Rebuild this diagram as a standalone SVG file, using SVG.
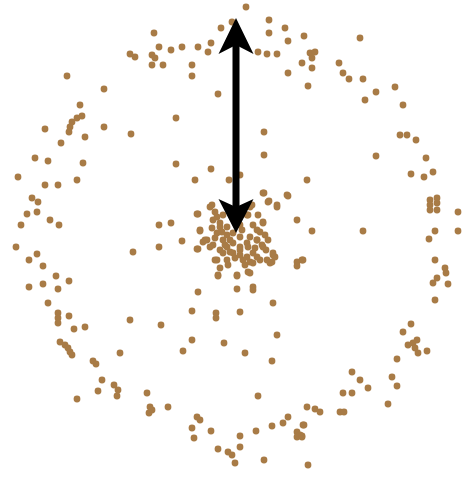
<svg xmlns="http://www.w3.org/2000/svg" width="468" height="477" viewBox="0 0 468 477">
<style>
.d{fill:#a87b46}
.d circle{r:3.4px}
</style>
<rect width="468" height="477" fill="#fff"/>
<g id="dots" class="d">
<circle cx="154" cy="33" r="3.4"/><circle cx="159" cy="47" r="3.4"/><circle cx="130" cy="54" r="3.4"/><circle cx="135" cy="57" r="3.4"/>
<circle cx="152" cy="55" r="3.4"/><circle cx="155" cy="58" r="3.4"/><circle cx="152" cy="65" r="3.4"/><circle cx="67" cy="76" r="3.4"/>
<circle cx="104" cy="89" r="3.4"/><circle cx="80" cy="105" r="3.4"/><circle cx="82" cy="116" r="3.4"/><circle cx="77" cy="118" r="3.4"/>
<circle cx="72" cy="122" r="3.4"/><circle cx="70" cy="127" r="3.4"/><circle cx="69" cy="132" r="3.4"/><circle cx="45" cy="129" r="3.4"/>
<circle cx="104" cy="127" r="3.4"/><circle cx="85" cy="137" r="3.4"/><circle cx="61" cy="143" r="3.4"/><circle cx="131" cy="134" r="3.4"/>
<circle cx="35" cy="158" r="3.4"/><circle cx="48" cy="161" r="3.4"/><circle cx="83" cy="163" r="3.4"/>
<circle cx="246" cy="7" r="3.4"/><circle cx="232" cy="22" r="3.4"/><circle cx="221" cy="28" r="3.4"/><circle cx="269" cy="20" r="3.4"/>
<circle cx="269" cy="33" r="3.4"/><circle cx="285" cy="28" r="3.4"/><circle cx="304" cy="36" r="3.4"/><circle cx="288" cy="41" r="3.4"/>
<circle cx="171" cy="50" r="3.4"/><circle cx="182" cy="47" r="3.4"/><circle cx="198" cy="47" r="3.4"/><circle cx="211" cy="43" r="3.4"/>
<circle cx="208" cy="52" r="3.4"/><circle cx="163" cy="65" r="3.4"/><circle cx="192" cy="65" r="3.4"/><circle cx="192" cy="76" r="3.4"/>
<circle cx="258" cy="52" r="3.4"/><circle cx="267" cy="54" r="3.4"/><circle cx="277" cy="54" r="3.4"/><circle cx="302" cy="63" r="3.4"/>
<circle cx="288" cy="73" r="3.4"/><circle cx="308" cy="86" r="3.4"/><circle cx="218" cy="94" r="3.4"/><circle cx="176" cy="118" r="3.4"/>
<circle cx="264" cy="132" r="3.4"/><circle cx="264" cy="155" r="3.4"/>
<circle cx="360" cy="38" r="3.4"/><circle cx="310" cy="53" r="3.4"/><circle cx="315" cy="52" r="3.4"/><circle cx="312" cy="58" r="3.4"/>
<circle cx="312" cy="68" r="3.4"/><circle cx="339" cy="63" r="3.4"/><circle cx="343" cy="73" r="3.4"/><circle cx="349" cy="79" r="3.4"/>
<circle cx="363" cy="79" r="3.4"/><circle cx="376" cy="92" r="3.4"/><circle cx="365" cy="100" r="3.4"/><circle cx="395" cy="87" r="3.4"/>
<circle cx="403" cy="105" r="3.4"/><circle cx="400" cy="135" r="3.4"/><circle cx="407" cy="135" r="3.4"/><circle cx="416" cy="140" r="3.4"/>
<circle cx="376" cy="156" r="3.4"/><circle cx="426" cy="158" r="3.4"/>
<circle cx="18" cy="177" r="3.4"/><circle cx="45" cy="185" r="3.4"/><circle cx="58" cy="185" r="3.4"/><circle cx="77" cy="180" r="3.4"/>
<circle cx="32" cy="198" r="3.4"/><circle cx="38" cy="202" r="3.4"/><circle cx="27" cy="214" r="3.4"/><circle cx="37" cy="212" r="3.4"/>
<circle cx="50" cy="220" r="3.4"/><circle cx="59" cy="225" r="3.4"/><circle cx="21" cy="225" r="3.4"/><circle cx="159" cy="225" r="3.4"/>
<circle cx="159" cy="247" r="3.4"/><circle cx="16" cy="247" r="3.4"/><circle cx="133" cy="252" r="3.4"/><circle cx="37" cy="254" r="3.4"/>
<circle cx="29" cy="260" r="3.4"/><circle cx="43" cy="266" r="3.4"/><circle cx="56" cy="276" r="3.4"/><circle cx="69" cy="281" r="3.4"/>
<circle cx="29" cy="287" r="3.4"/><circle cx="43" cy="284" r="3.4"/><circle cx="58" cy="289" r="3.4"/><circle cx="48" cy="303" r="3.4"/>
<circle cx="130" cy="320" r="3.4"/>
<circle cx="176" cy="164" r="3.4"/><circle cx="211" cy="169" r="3.4"/><circle cx="195" cy="180" r="3.4"/><circle cx="229" cy="180" r="3.4"/>
<circle cx="240" cy="175" r="3.4"/><circle cx="307" cy="180" r="3.4"/><circle cx="264" cy="193" r="3.4"/><circle cx="269" cy="201" r="3.4"/>
<circle cx="277" cy="207" r="3.4"/><circle cx="288" cy="196" r="3.4"/><circle cx="297" cy="220" r="3.4"/><circle cx="171" cy="223" r="3.4"/>
<circle cx="198" cy="214" r="3.4"/><circle cx="200" cy="230" r="3.4"/><circle cx="182" cy="241" r="3.4"/><circle cx="198" cy="249" r="3.4"/>
<circle cx="210" cy="207" r="3.4"/><circle cx="215" cy="212" r="3.4"/><circle cx="213" cy="220" r="3.4"/><circle cx="223" cy="215" r="3.4"/>
<circle cx="230" cy="210" r="3.4"/><circle cx="250" cy="207" r="3.4"/><circle cx="247" cy="215" r="3.4"/><circle cx="220" cy="227" r="3.4"/>
<circle cx="227" cy="227" r="3.4"/><circle cx="240" cy="225" r="3.4"/><circle cx="253" cy="225" r="3.4"/><circle cx="263" cy="222" r="3.4"/>
<circle cx="257" cy="230" r="3.4"/><circle cx="265" cy="235" r="3.4"/><circle cx="250" cy="237" r="3.4"/><circle cx="240" cy="237" r="3.4"/>
<circle cx="233" cy="233" r="3.4"/><circle cx="227" cy="235" r="3.4"/><circle cx="217" cy="233" r="3.4"/><circle cx="207" cy="240" r="3.4"/>
<circle cx="203" cy="242" r="3.4"/><circle cx="213" cy="245" r="3.4"/><circle cx="220" cy="250" r="3.4"/><circle cx="227" cy="247" r="3.4"/>
<circle cx="233" cy="243" r="3.4"/><circle cx="240" cy="247" r="3.4"/><circle cx="247" cy="243" r="3.4"/><circle cx="257" cy="240" r="3.4"/>
<circle cx="263" cy="247" r="3.4"/><circle cx="253" cy="253" r="3.4"/><circle cx="247" cy="257" r="3.4"/><circle cx="233" cy="253" r="3.4"/>
<circle cx="223" cy="253" r="3.4"/><circle cx="217" cy="260" r="3.4"/><circle cx="250" cy="262" r="3.4"/><circle cx="260" cy="260" r="3.4"/>
<circle cx="273" cy="255" r="3.4"/><circle cx="270" cy="263" r="3.4"/><circle cx="275" cy="257" r="3.4"/><circle cx="297" cy="262" r="3.4"/>
<circle cx="302" cy="260" r="3.4"/><circle cx="297" cy="266" r="3.4"/>
<circle cx="197" cy="214" r="3.4"/><circle cx="200" cy="231" r="3.4"/><circle cx="197" cy="249" r="3.4"/><circle cx="205" cy="240" r="3.4"/>
<circle cx="212" cy="205" r="3.4"/><circle cx="215" cy="260" r="3.4"/><circle cx="218" cy="275" r="3.4"/><circle cx="237" cy="275" r="3.4"/>
<circle cx="248" cy="272" r="3.4"/><circle cx="253" cy="263" r="3.4"/><circle cx="257" cy="257" r="3.4"/><circle cx="267" cy="260" r="3.4"/>
<circle cx="272" cy="262" r="3.4"/><circle cx="273" cy="253" r="3.4"/><circle cx="263" cy="223" r="3.4"/><circle cx="260" cy="232" r="3.4"/>
<circle cx="268" cy="202" r="3.4"/><circle cx="277" cy="205" r="3.4"/><circle cx="263" cy="193" r="3.4"/><circle cx="287" cy="195" r="3.4"/>
<circle cx="252" cy="205" r="3.4"/><circle cx="248" cy="215" r="3.4"/><circle cx="217" cy="217" r="3.4"/><circle cx="220" cy="223" r="3.4"/>
<circle cx="210" cy="247" r="3.4"/><circle cx="223" cy="240" r="3.4"/><circle cx="230" cy="252" r="3.4"/><circle cx="240" cy="250" r="3.4"/>
<circle cx="248" cy="247" r="3.4"/><circle cx="257" cy="240" r="3.4"/><circle cx="262" cy="245" r="3.4"/><circle cx="227" cy="260" r="3.4"/>
<circle cx="243" cy="260" r="3.4"/><circle cx="215" cy="238" r="3.4"/><circle cx="225" cy="245" r="3.4"/><circle cx="235" cy="258" r="3.4"/>
<circle cx="245" cy="265" r="3.4"/><circle cx="255" cy="248" r="3.4"/><circle cx="242" cy="230" r="3.4"/><circle cx="230" cy="240" r="3.4"/>
<circle cx="222" cy="232" r="3.4"/><circle cx="212" cy="228" r="3.4"/><circle cx="258" cy="215" r="3.4"/><circle cx="268" cy="240" r="3.4"/>
<circle cx="266" cy="250" r="3.4"/><circle cx="240" cy="255" r="3.4"/><circle cx="228" cy="265" r="3.4"/><circle cx="220" cy="268" r="3.4"/>
<circle cx="218" cy="276" r="3.4"/><circle cx="237" cy="276" r="3.4"/><circle cx="250" cy="273" r="3.4"/><circle cx="198" cy="292" r="3.4"/>
<circle cx="237" cy="289" r="3.4"/><circle cx="253" cy="287" r="3.4"/><circle cx="253" cy="290" r="3.4"/><circle cx="273" cy="303" r="3.4"/>
<circle cx="192" cy="311" r="3.4"/><circle cx="216" cy="313" r="3.4"/><circle cx="216" cy="318" r="3.4"/><circle cx="240" cy="312" r="3.4"/>
<circle cx="411" cy="174" r="3.4"/><circle cx="424" cy="177" r="3.4"/><circle cx="433" cy="172" r="3.4"/>
<circle cx="430" cy="200" r="3.4"/><circle cx="437" cy="198" r="3.4"/><circle cx="430" cy="205" r="3.4"/><circle cx="437" cy="203" r="3.4"/>
<circle cx="430" cy="210" r="3.4"/><circle cx="437" cy="210" r="3.4"/><circle cx="458" cy="212" r="3.4"/><circle cx="312" cy="231" r="3.4"/>
<circle cx="363" cy="231" r="3.4"/><circle cx="435" cy="231" r="3.4"/><circle cx="458" cy="231" r="3.4"/><circle cx="429" cy="239" r="3.4"/>
<circle cx="303" cy="260" r="3.4"/><circle cx="435" cy="260" r="3.4"/><circle cx="445" cy="268" r="3.4"/><circle cx="446" cy="273" r="3.4"/>
<circle cx="437" cy="278" r="3.4"/><circle cx="433" cy="283" r="3.4"/><circle cx="448" cy="284" r="3.4"/><circle cx="435" cy="300" r="3.4"/>
<circle cx="58" cy="313" r="3.4"/><circle cx="58" cy="318" r="3.4"/><circle cx="58" cy="323" r="3.4"/><circle cx="69" cy="316" r="3.4"/>
<circle cx="74" cy="329" r="3.4"/><circle cx="85" cy="327" r="3.4"/><circle cx="161" cy="325" r="3.4"/>
<circle cx="60" cy="342" r="3.4"/><circle cx="65" cy="345" r="3.4"/><circle cx="68" cy="348" r="3.4"/><circle cx="70" cy="352" r="3.4"/>
<circle cx="72" cy="355" r="3.4"/><circle cx="120" cy="353" r="3.4"/><circle cx="93" cy="361" r="3.4"/><circle cx="96" cy="364" r="3.4"/>
<circle cx="102" cy="380" r="3.4"/><circle cx="98" cy="391" r="3.4"/><circle cx="114" cy="385" r="3.4"/><circle cx="118" cy="390" r="3.4"/>
<circle cx="117" cy="396" r="3.4"/><circle cx="77" cy="399" r="3.4"/><circle cx="147" cy="393" r="3.4"/>
<circle cx="150" cy="407" r="3.4"/><circle cx="149" cy="413" r="3.4"/><circle cx="152" cy="410" r="3.4"/>
<circle cx="192" cy="340" r="3.4"/><circle cx="224" cy="343" r="3.4"/><circle cx="183" cy="351" r="3.4"/><circle cx="245" cy="353" r="3.4"/>
<circle cx="277" cy="335" r="3.4"/><circle cx="272" cy="361" r="3.4"/><circle cx="258" cy="396" r="3.4"/><circle cx="168" cy="407" r="3.4"/>
<circle cx="307" cy="407" r="3.4"/><circle cx="197" cy="417" r="3.4"/><circle cx="200" cy="420" r="3.4"/><circle cx="192" cy="428" r="3.4"/>
<circle cx="211" cy="431" r="3.4"/><circle cx="194" cy="438" r="3.4"/><circle cx="256" cy="431" r="3.4"/><circle cx="272" cy="426" r="3.4"/>
<circle cx="283" cy="423" r="3.4"/><circle cx="288" cy="417" r="3.4"/><circle cx="303" cy="425" r="3.4"/><circle cx="297" cy="432" r="3.4"/>
<circle cx="300" cy="435" r="3.4"/><circle cx="297" cy="437" r="3.4"/><circle cx="302" cy="437" r="3.4"/><circle cx="240" cy="436" r="3.4"/>
<circle cx="240" cy="447" r="3.4"/><circle cx="218" cy="449" r="3.4"/><circle cx="228" cy="452" r="3.4"/><circle cx="232" cy="455" r="3.4"/>
<circle cx="235" cy="463" r="3.4"/><circle cx="264" cy="460" r="3.4"/><circle cx="308" cy="465" r="3.4"/>
<circle cx="411" cy="324" r="3.4"/><circle cx="403" cy="332" r="3.4"/><circle cx="417" cy="340" r="3.4"/><circle cx="413" cy="343" r="3.4"/>
<circle cx="408" cy="345" r="3.4"/><circle cx="415" cy="348" r="3.4"/><circle cx="418" cy="353" r="3.4"/><circle cx="427" cy="351" r="3.4"/>
<circle cx="397" cy="359" r="3.4"/><circle cx="352" cy="372" r="3.4"/><circle cx="360" cy="380" r="3.4"/><circle cx="368" cy="388" r="3.4"/>
<circle cx="392" cy="377" r="3.4"/><circle cx="397" cy="386" r="3.4"/><circle cx="343" cy="393" r="3.4"/><circle cx="352" cy="393" r="3.4"/>
<circle cx="388" cy="404" r="3.4"/><circle cx="315" cy="409" r="3.4"/><circle cx="320" cy="412" r="3.4"/>
<circle cx="340" cy="412" r="3.4"/><circle cx="344" cy="412" r="3.4"/><circle cx="304" cy="425" r="3.4"/><circle cx="302" cy="436" r="3.4"/>
</g>
<g id="arrow" fill="#000">
<rect x="232.5" y="42" width="7" height="168"/>
<path d="M236,18 L253.5,54 L236,45 L218.5,54 Z"/>
<path d="M236,233 L253.5,199 L236,207 L218.5,199 Z"/>
</g>
</svg>
